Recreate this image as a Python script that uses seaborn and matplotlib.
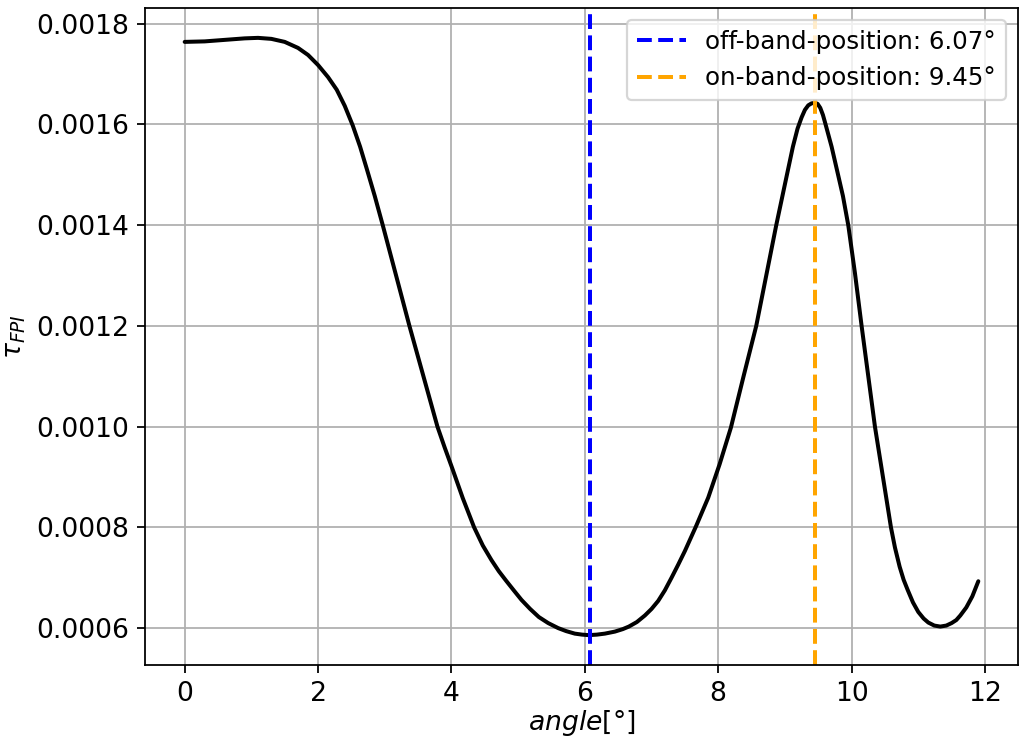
import matplotlib
matplotlib.use("Agg")
import matplotlib.pyplot as plt
import seaborn as sns
import numpy as np
import pandas as pd

angle = [0.0, 0.3, 0.6, 0.9, 1.1, 1.3, 1.5, 1.7, 1.85, 2.0, 2.15, 2.28, 2.4, 2.52,
         2.63, 2.73, 2.85, 2.97, 3.17, 3.37, 3.58, 3.79, 3.9, 4.01, 4.17, 4.34, 4.47,
         4.6, 4.71, 4.82, 4.94, 5.05, 5.18, 5.31, 5.45, 5.6, 5.72, 5.85, 5.96, 6.06,
         6.18, 6.3, 6.45, 6.57, 6.66, 6.78, 6.9, 7.0, 7.1, 7.2, 7.3, 7.4, 7.5, 7.67,
         7.85, 8.02, 8.19, 8.38, 8.57, 8.72, 8.87, 9.03, 9.12, 9.19, 9.25, 9.3, 9.35,
         9.4, 9.45, 9.49, 9.53, 9.57, 9.61, 9.7, 9.78, 9.87, 9.95, 10.05, 10.15, 10.25,
         10.35, 10.47, 10.59, 10.65, 10.72, 10.78, 10.84, 10.92, 11.0, 11.08, 11.15,
         11.24, 11.33, 11.42, 11.5, 11.57, 11.63, 11.72, 11.81, 11.9]
tau = [0.001764, 0.001765, 0.001768, 0.001771, 0.001772, 0.001770, 0.001764, 0.001752,
       0.001738, 0.001718, 0.001694, 0.001669, 0.001637, 0.001598, 0.001556, 0.001512,
       0.001458, 0.001400, 0.001300, 0.001200, 0.001100, 0.001000, 0.000958, 0.000918,
       0.000858, 0.000800, 0.000764, 0.000735, 0.000713, 0.000694, 0.000674, 0.000656,
       0.000638, 0.000622, 0.000610, 0.000600, 0.000594, 0.000589, 0.000587, 0.000586,
       0.000587, 0.000589, 0.000593, 0.000598, 0.000603, 0.000612, 0.000625, 0.000638,
       0.000654, 0.000675, 0.000700, 0.000726, 0.000753, 0.000803, 0.000859, 0.000925,
       0.000998, 0.001100, 0.001200, 0.001300, 0.001400, 0.001500, 0.001556, 0.001592,
       0.001614, 0.001629, 0.001638, 0.001642, 0.001643, 0.001641, 0.001633, 0.001619,
       0.001600, 0.001556, 0.001510, 0.001458, 0.001400, 0.001305, 0.001200, 0.001100,
       0.001000, 0.000900, 0.000800, 0.000760, 0.000722, 0.000696, 0.000676, 0.000651,
       0.000632, 0.000619, 0.000611, 0.000605, 0.000603, 0.000605, 0.000610, 0.000616,
       0.000625, 0.000641, 0.000663, 0.000693]

off_band = 6.07
on_band = 9.45
off_label = "off-band-position: 6.07°"
on_label = "on-band-position: 9.45°"

df = pd.DataFrame({"angle": angle, "tau": tau})

sns.set_style("ticks", rc={
    "axes.edgecolor": "black", "text.color": "black", "xtick.color": "black",
    "ytick.color": "black", "axes.labelcolor": "black",
})
plt.rcParams["font.family"] = ["DejaVu Sans"]
plt.rcParams["font.size"] = 12
plt.rcParams["xtick.labelsize"] = 12
plt.rcParams["ytick.labelsize"] = 12
plt.rcParams["legend.fontsize"] = 11
plt.rcParams["axes.labelsize"] = 12

fig = plt.figure(figsize=(1020 / 160, 742 / 160), dpi=160)
ax = fig.add_axes([145 / 1020, 1 - 665 / 742, (1018 - 145) / 1020, (665 - 8) / 742])

sns.lineplot(data=df, x="angle", y="tau", color="black", lw=1.8, ax=ax)
ax.axvline(off_band, color="blue", ls="--", lw=1.8, label=off_label)
ax.axvline(on_band, color="orange", ls="--", lw=1.8, label=on_label)

ax.grid(True, color="#b0b0b0", lw=0.8)
ax.set_axisbelow(True)
for s in ax.spines.values():
    s.set_visible(True)
    s.set_color("black")
    s.set_linewidth(0.8)
ax.set_xlabel(r"$angle[°]$", labelpad=0.5)
ax.set_ylabel(r"$\tau_{FPI}$")
ax.set_xticks([0, 2, 4, 6, 8, 10, 12])
ax.set_yticks([0.0006, 0.0008, 0.0010, 0.0012, 0.0014, 0.0016, 0.0018])
ax.set_yticklabels(["0.0006", "0.0008", "0.0010", "0.0012", "0.0014", "0.0016", "0.0018"])
ax.legend(loc="upper right", frameon=True, framealpha=0.8, edgecolor="0.8", fancybox=True)

fig.savefig("out.png", dpi=160)
